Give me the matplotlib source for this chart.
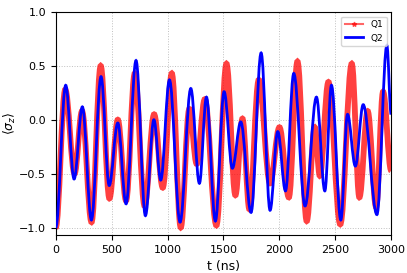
import matplotlib
matplotlib.use("Agg")
import matplotlib.pyplot as plt
from matplotlib.path import Path
from matplotlib.patches import PathPatch
from matplotlib.lines import Line2D

# turning points of <sigma_z> (t in ns)
q1_t = [0, 85, 168, 235, 320, 402, 480, 555, 629, 707, 795, 880, 957, 1038,
        1118, 1195, 1261, 1333, 1437, 1527, 1607, 1670, 1732, 1816, 1917, 2001,
        2085, 2162, 2245, 2317, 2362, 2439, 2545, 2648, 2716, 2790, 2866, 2928,
        3000]
q1_z = [-1.0, 0.28, -0.50, 0.08, -0.95, 0.50, -0.73, 0.00, -0.75, 0.43, -0.80,
        0.05, -0.63, 0.43, -1.00, 0.10, -0.41, 0.19, -0.98, 0.52, -0.70, 0.01,
        -0.83, 0.37, -0.59, -0.07, -0.72, 0.54, -0.94, -0.07, -0.52, 0.35, -0.97,
        0.52, -0.72, 0.08, -0.81, 0.26, -0.47]

q2_t = [0, 89, 164, 238, 319, 405, 478, 555, 629, 718, 802, 878, 939, 1017,
        1112, 1208, 1285, 1348, 1428, 1506, 1580, 1655, 1747, 1837, 1917, 1986,
        2055, 2129, 2230, 2332, 2407, 2466, 2550, 2610, 2680, 2750, 2873, 2962,
        3000]
q2_z = [-1.0, 0.32, -0.55, 0.12, -0.93, 0.40, -0.61, -0.03, -0.78, 0.55, -0.89,
        0.00, -0.56, 0.37, -0.95, 0.29, -0.59, 0.21, -0.94, 0.26, -0.45, -0.02,
        -0.86, 0.62, -0.84, -0.11, -0.66, 0.43, -0.80, 0.21, -0.66, 0.32, -0.93,
        0.05, -0.43, 0.14, -0.88, 0.69, 0.05]


def smooth_path(t, z, c=0.364):
    # cubic bezier between turning points, flat tangent at each one
    verts = [(t[0], z[0])]
    codes = [Path.MOVETO]
    for i in range(1, len(t)):
        dt = t[i] - t[i - 1]
        verts += [(t[i - 1] + c * dt, z[i - 1]), (t[i] - c * dt, z[i]), (t[i], z[i])]
        codes += [Path.CURVE4] * 3
    return Path(verts, codes)


plt.rcParams["font.size"] = 8

fig, ax = plt.subplots(figsize=(4.07, 2.73), dpi=100)
fig.subplots_adjust(left=0.137, right=0.961, top=0.956, bottom=0.139)

ax.add_patch(PathPatch(smooth_path(q1_t, q1_z), fill=False, edgecolor="red",
                       alpha=0.75, lw=4.2, zorder=2))
ax.add_patch(PathPatch(smooth_path(q2_t, q2_z), fill=False, edgecolor="blue",
                       lw=2, zorder=3))

ax.set_xlim(0, 3000)
ax.set_ylim(-1.07, 1.0)
ax.set_xticks([0, 500, 1000, 1500, 2000, 2500, 3000])
ax.set_yticks([-1.0, -0.5, 0.0, 0.5, 1.0])
ax.grid(True, linestyle=":", color="gray", alpha=0.5, lw=0.7)
ax.set_xlabel("t (ns)", fontsize=9)
ax.set_ylabel(r"$\langle\sigma_z\rangle$", fontsize=9, labelpad=1)

handles = [Line2D([], [], color="red", alpha=0.6, marker="*", markersize=3.5, lw=1.5, label="Q1"),
           Line2D([], [], color="blue", lw=2, label="Q2")]
ax.legend(handles=handles, loc="upper right", fontsize=6.5)

fig.savefig("out.png", dpi=100)
